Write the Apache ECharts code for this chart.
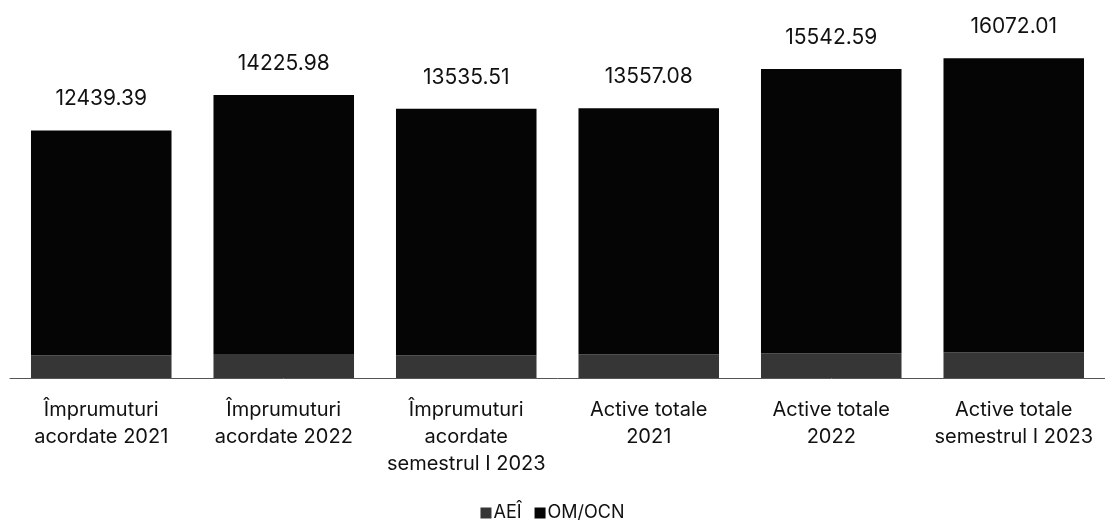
<!DOCTYPE html>
<html>
<head>
<meta charset="utf-8">
<script src="https://cdn.jsdelivr.net/npm/echarts@6/dist/echarts.min.js"></script>
<style>html,body{margin:0;padding:0;background:#fff}#c{width:1105px;height:527px}</style>
</head>
<body>
<div id="c"></div>
<script>
const categories = [
  "Împrumuturi\nacordate 2021",
  "Împrumuturi\nacordate 2022",
  "Împrumuturi\nacordate\nsemestrul I 2023",
  "Active totale\n2021",
  "Active totale\n2022",
  "Active totale\nsemestrul I 2023"
];
const aei = [1150, 1170, 1150, 1200, 1250, 1280];
const omocn = [11289.39, 13055.98, 12385.51, 12357.08, 14292.59, 14792.01];
const totals = ["12439.39", "14225.98", "13535.51", "13557.08", "15542.59", "16072.01"];

const chart = echarts.init(document.getElementById('c'));
const font = 'Inter, "Noto Sans", sans-serif';
chart.setOption({
  animation: false,
  textStyle: { fontFamily: font },
  grid: { left: 10, right: 0, top: 20, bottom: 149 },
  xAxis: {
    type: 'category',
    data: categories,
    axisLine: { lineStyle: { color: '#555', width: 1 } },
    axisTick: { show: false },
    axisLabel: { color: '#111', fontSize: 20, lineHeight: 27, margin: 18, fontFamily: font, interval: 0 }
  },
  yAxis: { type: 'value', min: 0, max: 18000, show: false, splitLine: { show: false } },
  legend: {
    bottom: 0, left: 'center', itemWidth: 11, itemHeight: 11, itemGap: 13,
    icon: 'rect',
    textStyle: { fontSize: 18, color: '#111', fontFamily: font, padding: [0, 0, 0, -3] },
    data: ['AEÎ', 'OM/OCN']
  },
  series: [
    { name: 'AEÎ', type: 'bar', stack: 's', data: aei, barWidth: '77%',
      itemStyle: { color: '#363636' } },
    { name: 'OM/OCN', type: 'bar', stack: 's', data: omocn, barWidth: '77%',
      itemStyle: { color: '#050505' },
      label: { show: true, position: 'top', distance: 21, fontSize: 21, color: '#111', fontFamily: font,
        formatter: p => totals[p.dataIndex] } }
  ]
});
</script>
</body>
</html>
